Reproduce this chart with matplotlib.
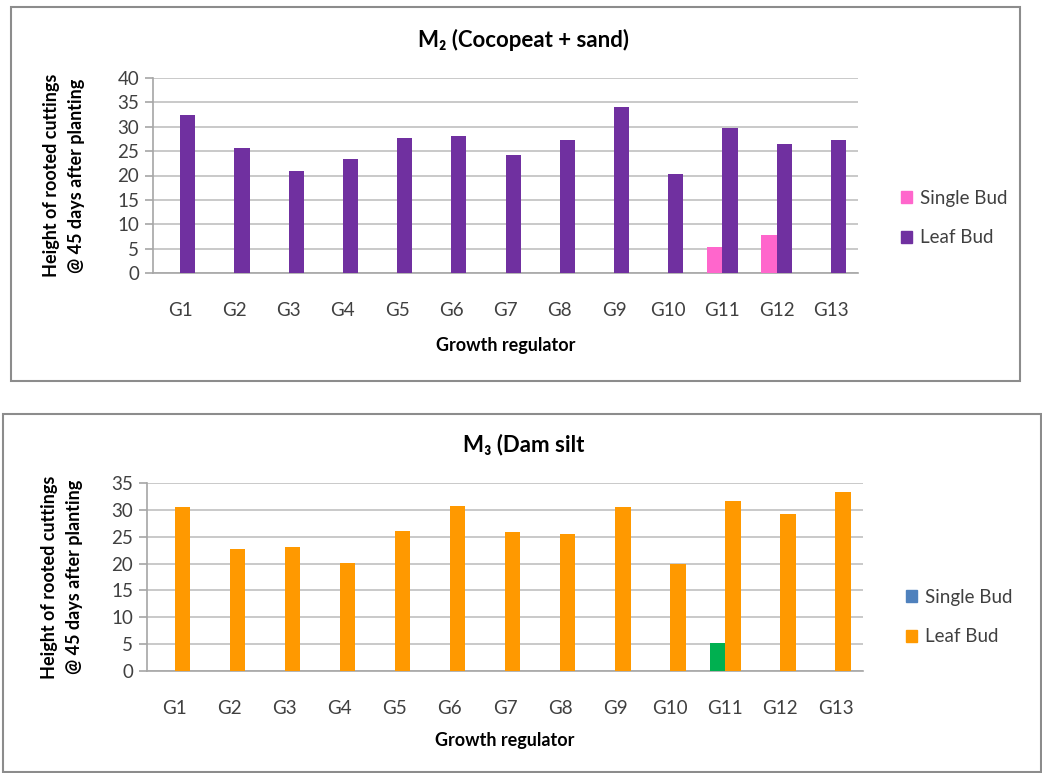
import numpy as np
import matplotlib
matplotlib.use("Agg")
import matplotlib.pyplot as plt
from matplotlib.patches import Rectangle, Patch

plt.rcParams['font.family'] = ['Lato', 'DejaVu Sans']

# data
groups = ["G1", "G2", "G3", "G4", "G5", "G6", "G7", "G8", "G9", "G10", "G11", "G12", "G13"]

m2_single = [0, 0, 0, 0, 0, 0, 0, 0, 0, 0, 5.3, 7.8, 0]
m2_leaf = [32.5, 25.6, 21.0, 23.4, 27.6, 28.2, 24.2, 27.3, 34.1, 20.4, 29.8, 26.5, 27.3]

m3_single = [0, 0, 0, 0, 0, 0, 0, 0, 0, 0, 5.2, 0, 0]
m3_leaf = [30.5, 22.7, 23.0, 20.1, 26.0, 30.7, 25.8, 25.5, 30.5, 19.9, 31.6, 29.2, 33.3]

W, H = 1042, 773
fig = plt.figure(figsize=(W / 100, H / 100), dpi=100)


def px_axes(x0, y0, x1, y1):
    # pixel box (top-left origin) -> figure axes
    return fig.add_axes([x0 / W, 1 - y1 / H, (x1 - x0) / W, (y1 - y0) / H])


def panel_border(x0, y0, x1, y1):
    fig.patches.append(Rectangle((x0 / W, 1 - y1 / H), (x1 - x0) / W, (y1 - y0) / H,
                                 transform=fig.transFigure, fill=False,
                                 edgecolor="#8c8c8c", linewidth=1.5))


def draw_chart(ax, single, leaf, single_colors, leaf_color, ymax, title, title_xy, legend_colors, legend_xy, ylab_x):
    x = np.arange(len(groups))
    w = 0.28
    ax.bar(x - w / 2, single, w, color=single_colors, zorder=3)
    ax.bar(x + w / 2, leaf, w, color=leaf_color, zorder=3)

    ax.set_xlim(-0.5, len(groups) - 0.5)
    ax.set_ylim(0, ymax)
    ax.set_yticks(np.arange(0, ymax + 1, 5))
    ax.set_xticks(x)
    ax.set_xticklabels(groups)
    ax.yaxis.grid(True, color="#c0c0c0", linewidth=1.2, zorder=0)
    ax.set_axisbelow(True)
    for s in ["top", "right"]:
        ax.spines[s].set_visible(False)
    for s in ["left", "bottom"]:
        ax.spines[s].set_color("#a6a6a6")
        ax.spines[s].set_linewidth(1.2)
    ax.tick_params(axis="x", length=0, pad=21, labelsize=13.5, labelcolor="#404040")
    ax.tick_params(axis="y", length=6, color="#a6a6a6", width=1.2, pad=4,
                   labelsize=13.5, labelcolor="#404040")

    ax.set_ylabel("Height of rooted cuttings\n@ 45 days after planting",
                  fontsize=13, fontweight="bold", linespacing=1.55)
    ax.yaxis.set_label_coords(ylab_x, 0.5)
    ax.set_xlabel("Growth regulator", fontsize=13, fontweight="bold")
    ax.xaxis.label.set_va("center")
    ax.xaxis.set_label_coords(0.5, -0.37)

    fig.text(title_xy[0] / W, 1 - title_xy[1] / H, title, ha="center", va="center",
             fontsize=16, fontweight="bold")

    handles = [Patch(color=legend_colors[0], label="Single Bud"),
               Patch(color=legend_colors[1], label="Leaf Bud")]
    fig.legend(handles=handles, loc="center left",
               bbox_to_anchor=(legend_xy[0] / W, 1 - legend_xy[1] / H),
               frameon=False, fontsize=13.5, handlelength=0.6, handleheight=0.6,
               handletextpad=0.4, labelspacing=1.2, labelcolor="#404040")


# top panel: M2
panel_border(11, 7, 1020, 381)
ax1 = px_axes(153, 78, 858, 273)
draw_chart(ax1, m2_single, m2_leaf, "#ff66cc", "#7030a0", 40,
           "M\u2082 (Cocopeat + sand)", (523, 40),
           ("#ff66cc", "#7030a0"), (884, 218), -0.097)

# bottom panel: M3 (single bud bar drawn green, legend shows blue as in source)
panel_border(3, 414, 1041, 772)
ax2 = px_axes(147, 483, 863, 671)
m3_single_colors = ["#00b050"] * len(groups)
draw_chart(ax2, m3_single, m3_leaf, m3_single_colors, "#ff9900", 35,
           "M\u2083 (Dam silt", (524, 445),
           ("#4f81bd", "#ff9900"), (889, 617), -0.09)

fig.savefig("out.png", dpi=100)
